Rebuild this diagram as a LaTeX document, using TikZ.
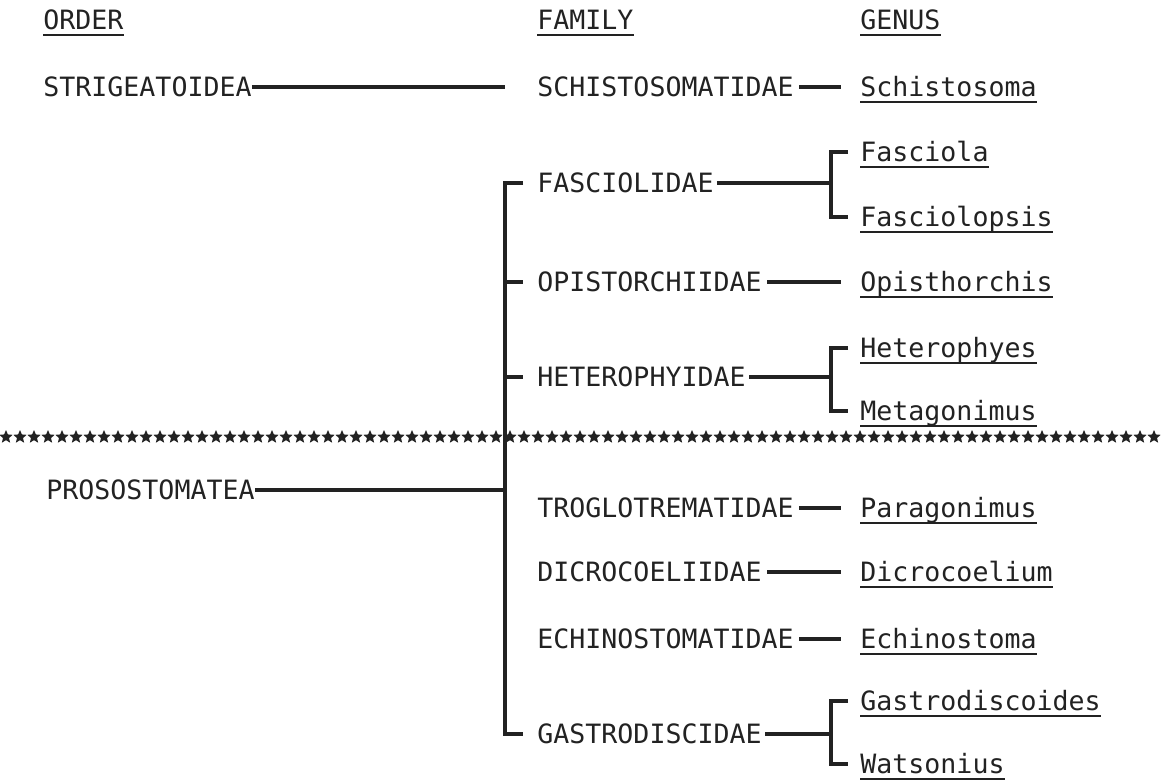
\documentclass[tikz,border=0pt]{standalone}
\usepackage{fontspec}
\setmonofont{DejaVu Sans Mono}
\usetikzlibrary{shapes.geometric}
\definecolor{ink}{HTML}{222222}
\tikzset{taxon/.style={anchor=west,inner sep=0pt,text height=9.7pt,text depth=0pt,
  text=ink,font=\ttfamily\fontsize{13.3}{16}\selectfont},
  link/.style={draw=ink,line width=1.6pt},
  uline/.style={draw=ink,line width=1.1pt},
  starmark/.style={star,star points=5,star point ratio=2.2,fill=ink,
  inner sep=0pt,minimum size=7pt}}

\begin{document}
\begin{tikzpicture}[x=0.5pt,y=-0.5pt]
\fill[white] (0,0) rectangle (1165,782);
\useasboundingbox (0,0) rectangle (1165,782);
\coordinate (tr) at (505,0);
\coordinate (br) at (831,0);
\coordinate (gx) at (841,0);
% headings
\node[taxon] (ord) at (43,20) {ORDER};
\node[taxon] (fam) at (537,20) {FAMILY};
\node[taxon] (gen) at (860,20) {GENUS};
% orders
\node[taxon] (strig) at (43,87) {STRIGEATOIDEA};
\node[taxon] (prosos) at (46,490) {PROSOSTOMATEA};
% families
\node[taxon] (schfam) at (537,87) {SCHISTOSOMATIDAE};
\node[taxon] (fasfam) at (537,183) {FASCIOLIDAE};
\node[taxon] (opifam) at (537,282) {OPISTORCHIIDAE};
\node[taxon] (hetfam) at (537,377) {HETEROPHYIDAE};
\node[taxon] (trofam) at (537,508) {TROGLOTREMATIDAE};
\node[taxon] (dicfam) at (537,572) {DICROCOELIIDAE};
\node[taxon] (echfam) at (537,639) {ECHINOSTOMATIDAE};
\node[taxon] (gasfam) at (537,734) {GASTRODISCIDAE};
% genera
\node[taxon] (schis) at (860,87) {Schistosoma};
\node[taxon] (fasc) at (860,152) {Fasciola};
\node[taxon] (fasop) at (860,217) {Fasciolopsis};
\node[taxon] (opis) at (860,282) {Opisthorchis};
\node[taxon] (hetph) at (860,348) {Heterophyes};
\node[taxon] (metag) at (860,411) {Metagonimus};
\node[taxon] (parag) at (860,508) {Paragonimus};
\node[taxon] (dicro) at (860,572) {Dicrocoelium};
\node[taxon] (echin) at (860,639) {Echinostoma};
\node[taxon] (gastr) at (860,701) {Gastrodiscoides};
\node[taxon] (watso) at (860,764) {Watsonius};
\foreach \n in {ord,fam,gen,schis,fasc,fasop,opis,hetph,metag,parag,dicro,echin,gastr,watso}
\draw[uline] ([yshift=-2.5pt]\n.south west)--([yshift=-2.5pt]\n.south east);
% row of stars
\foreach \i in {0,...,82}
\node[starmark] (s\i) at (6+14*\i,437) {};
% orders to families
\draw[link] (strig.east)--(strig.east -| tr);
\draw[link] (prosos.east)--(prosos.east -| tr);
\draw[link] ([xshift=-7pt]fasfam.west) -| (gasfam.west -| tr)--([xshift=-7pt]gasfam.west);
\foreach \f in {opifam,hetfam}
\draw[link] (\f.west -| tr)--([xshift=-7pt]\f.west);
% families to genera
\foreach \f/\g in {schfam/schis,opifam/opis,trofam/parag,dicfam/dicro,echfam/echin}
\draw[link,shorten <=2.5pt] (\f.east)--(\g.west -| gx);
\foreach \f/\a/\b in {fasfam/fasc/fasop,hetfam/hetph/metag,gasfam/gastr/watso}{
\draw[link,shorten <=1.5pt] (\f.east)--(\f.east -| br);
\draw[link] ([xshift=-6pt]\a.west) -| (\b.west -| br)--([xshift=-6pt]\b.west);}
\end{tikzpicture}
\end{document}
